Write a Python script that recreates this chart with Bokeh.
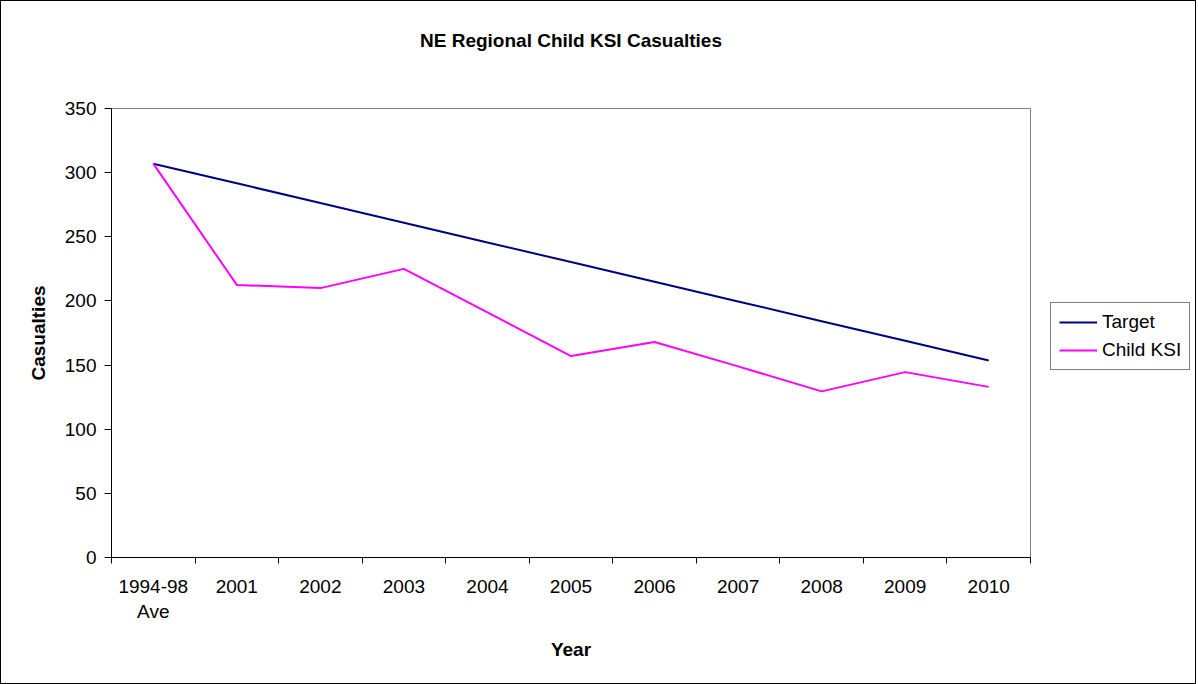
from bokeh.plotting import figure
from bokeh.layouts import row
from bokeh.models import Range1d, FixedTicker, Legend, LegendItem, Title
from bokeh.embed import file_html
from bokeh.resources import INLINE

categories = ["1994-98\nAve", "2001", "2002", "2003", "2004", "2005",
              "2006", "2007", "2008", "2009", "2010"]
target = [307, 291.7, 276.3, 261.0, 245.6, 230.3, 214.9, 199.6, 184.2, 168.9, 153.5]
child_ksi = [307, 212.5, 210, 225, 191, 157, 168, 149, 129.5, 144.5, 133]
y_ticks = [0, 50, 100, 150, 200, 250, 300, 350]
series_names = ["Target", "Child KSI"]
series_colors = ["#000080", "#FF00FF"]
title_text = "NE Regional Child KSI Casualties"

FONT = "Liberation Sans"
x = list(range(len(categories)))

p = figure(frame_width=919, frame_height=449, output_backend="svg", toolbar_location=None,
           x_range=Range1d(-0.5, len(categories) - 0.5), y_range=Range1d(0, 350),
           min_border_left=110, min_border_right=1, min_border_top=107,
           min_border_bottom=126)
try:
    p.title = None
except Exception:
    p.title.visible = False

# spacer title (nearest the frame) then the real title above it
p.add_layout(Title(text=" ", text_font_size="1px", standoff=50), "above")
p.add_layout(Title(text=title_text, align="center", text_font=FONT,
                   text_font_size="19px", text_font_style="bold",
                   text_color="black", standoff=10), "above")

p.xgrid.visible = False
p.ygrid.visible = False
p.outline_line_color = "#808080"
p.outline_line_width = 1
p.background_fill_color = "white"
p.border_fill_color = "white"

p.line(x, target, line_color=series_colors[0], line_width=2)
p.line(x, child_ksi, line_color=series_colors[1], line_width=2)

# x axis
xa = p.xaxis[0]
xa.ticker = FixedTicker(ticks=x, minor_ticks=[i - 0.5 for i in range(len(categories) + 1)])
xa.major_label_overrides = {i: c for i, c in zip(x, categories)}
xa.major_tick_line_color = None
xa.major_tick_out = 6
xa.major_tick_in = 0
xa.minor_tick_line_color = "black"
xa.minor_tick_out = 6
xa.minor_tick_in = 0
xa.axis_line_color = "black"
xa.major_label_text_font = FONT
xa.major_label_text_font_size = "19px"
xa.major_label_text_color = "black"
xa.major_label_standoff = 12
xa.axis_label = "Year"
xa.axis_label_text_font = FONT
xa.axis_label_text_font_size = "19px"
xa.axis_label_text_font_style = "bold"
xa.axis_label_text_color = "black"
xa.axis_label_standoff = 14

# y axis
ya = p.yaxis[0]
ya.ticker = FixedTicker(ticks=y_ticks)
ya.minor_tick_line_color = None
ya.major_tick_out = 7
ya.major_tick_in = 0
ya.axis_line_color = "black"
ya.major_label_text_font = FONT
ya.major_label_text_font_size = "19px"
ya.major_label_text_color = "black"
ya.major_label_standoff = 8
ya.axis_label = "Casualties"
ya.axis_label_text_font = FONT
ya.axis_label_text_font_size = "19px"
ya.axis_label_text_font_style = "bold"
ya.axis_label_text_color = "black"
ya.axis_label_standoff = 13

# legend area (separate panel to the right of the plot)
lf = figure(width=164, height=682, output_backend="svg", toolbar_location=None,
            x_range=Range1d(0, 1), y_range=Range1d(0, 1),
            x_axis_location=None, y_axis_location=None, min_border=0)
lf.grid.visible = False
lf.outline_line_color = None
lf.background_fill_color = "white"
lf.border_fill_color = "white"
r1 = lf.line(x, target, line_color=series_colors[0], line_width=2, visible=False)
r2 = lf.line(x, child_ksi, line_color=series_colors[1], line_width=2, visible=False)

legend = Legend(items=[LegendItem(label=series_names[0], renderers=[r1]),
                       LegendItem(label=series_names[1], renderers=[r2])],
                location=(19, 187))
legend.border_line_color = "black"
legend.border_line_width = 1
legend.background_fill_color = "white"
legend.background_fill_alpha = 1
legend.inactive_fill_alpha = 0
legend.label_text_font = FONT
legend.label_text_font_size = "19px"
legend.label_text_color = "black"
legend.glyph_width = 38
legend.glyph_height = 20
legend.label_standoff = 5
legend.padding = 8
legend.spacing = 6
legend.margin = 0
lf.add_layout(legend, "center")

layout = row(p, lf)
layout.styles = {"border": "1px solid #000000"}

open("out.html", "w").write(file_html(layout, INLINE))
